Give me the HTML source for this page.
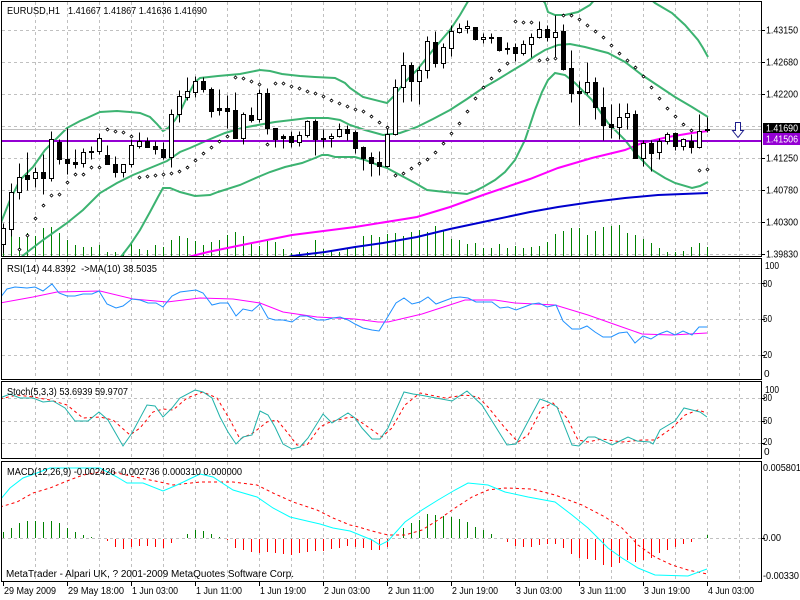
<!DOCTYPE html>
<html><head><meta charset="utf-8"><style>
html,body{margin:0;padding:0;background:#fff;width:800px;height:600px;overflow:hidden}
svg{display:block}
text{font-family:"Liberation Sans",sans-serif;font-size:10px;fill:#000}
.w{fill:#fff;stroke:#000;stroke-width:1}
.b{fill:#000;stroke:#000;stroke-width:1}
</style></head><body>
<svg width="800" height="600" viewBox="0 0 800 600" xmlns="http://www.w3.org/2000/svg" xmlns:xlink="http://www.w3.org/1999/xlink">
<defs>
<clipPath id="cm"><rect x="2" y="2" width="759" height="254"/></clipPath>
<clipPath id="cr"><rect x="2" y="259" width="759" height="120"/></clipPath>
<clipPath id="cs"><rect x="2" y="382" width="759" height="76"/></clipPath>
<clipPath id="cd"><rect x="2" y="462" width="759" height="119"/></clipPath>
<g id="vg"><path d="M0.5 2V256M0.5 259V379M0.5 382V458M0.5 462V581" stroke="#c0c0c0" stroke-dasharray="3,3" fill="none"/></g>
</defs>
<rect width="800" height="600" fill="#fff"/>

<!-- vertical grid -->
<use xlink:href="#vg" x="35"/><use xlink:href="#vg" x="67"/><use xlink:href="#vg" x="99"/><use xlink:href="#vg" x="131"/><use xlink:href="#vg" x="163"/><use xlink:href="#vg" x="195"/><use xlink:href="#vg" x="227"/><use xlink:href="#vg" x="259"/><use xlink:href="#vg" x="291"/><use xlink:href="#vg" x="323"/><use xlink:href="#vg" x="355"/><use xlink:href="#vg" x="387"/><use xlink:href="#vg" x="419"/><use xlink:href="#vg" x="451"/><use xlink:href="#vg" x="483"/><use xlink:href="#vg" x="515"/><use xlink:href="#vg" x="547"/><use xlink:href="#vg" x="579"/><use xlink:href="#vg" x="611"/><use xlink:href="#vg" x="643"/><use xlink:href="#vg" x="675"/><use xlink:href="#vg" x="707"/><use xlink:href="#vg" x="739"/>
<!-- horizontal grid -->
<path d="M2 30.5H761M2 62.5H761M2 94.5H761M2 126.5H761M2 158.5H761M2 190.5H761M2 222.5H761M2 254.5H761M2 283.5H761M2 319.5H761M2 355.5H761M2 398.5H761M2 421.5H761M2 443.5H761M2 538.5H761" stroke="#c0c0c0" stroke-dasharray="3,3" fill="none"/>

<!-- MAIN PANEL -->
<g clip-path="url(#cm)">
<!-- volumes -->
<g transform="translate(-0.5,0)">
<path fill="none" stroke="#008000" stroke-width="1" d="M4 240V256M12 236V256M20 237V256M28 233V256M36 236V256M44 228V256M52 227V256M60 233V256M68 240V256M76 245V256M84 247V256M92 247V256M100 245V256M108 252V256M116 252V256M124 252V256M132 244V256M140 249V256M148 250V256M156 245V256M164 247V256M172 240V256M180 236V256M188 238V256M196 241V256M204 245V256M212 242V256M220 240V256M228 235V256M236 232V256M244 236V256M252 243V256M260 246V256M268 241V256M276 242V256M284 249V256M292 253V256M300 252V256M308 252V256M316 240V256M324 249V256M332 250V256M340 252V256M348 249V256M356 247V256M364 236V256M372 235V256M380 237V256M388 234V256M396 233V256M404 236V256M412 232V256M420 230V256M428 232V256M436 226V256M444 230V256M452 239V256M460 240V256M468 244V256M476 243V256M484 248V256M492 248V256M500 244V256M508 248V256M516 246V256M524 248V256M532 247V256M540 246V256M548 242V256M556 234V256M564 231V256M572 228V256M580 228V256M588 235V256M596 231V256M604 227V256M612 226V256M620 225V256M628 233V256M636 235V256M644 239V256M652 243V256M660 248V256M668 252V256M676 252V256M684 251V256M692 247V256M700 243V256M708 247V256"/>
</g>
<!-- moving averages -->
<polyline fill="none" stroke="#ff00ff" stroke-width="2" points="185,258 192,256 208,252 242,245 292,235 355,227 417,217 450,207 483,195 530,179 558,168 592,158 625,150 642,143 668,137 692,133 708,131"/>
<polyline fill="none" stroke="#0000cd" stroke-width="2" points="285,258 292,256 325,252 355,247 383,243 417,237 450,229 483,222 530,212 558,207 592,202 625,198 658,195 708,193"/>
<!-- bollinger -->
<g fill="none" stroke="#3cb371" stroke-width="2">
<polyline points="0,225 10,200 20,180 33,167 45,150 53,142 67,128 80,121 87,118 100,112 117,111 130,112 140,113 150,117 157,124 163,131 168,128 175,120 180,112 188,95 195,82 200,78 218,76 240,74 260,70 270,71 282,74 300,76 315,77 335,78 345,83 350,88 363,97 387,103 393,97 405,82 417,70 433,50 450,30 460,15 467,3 472,-5"/>
<polyline points="540,-3 545,3 548,12 555,15 565,15 578,12 590,5 597,-3"/>
<polyline points="648,-3 655,3 672,13 685,25 698,40 703,48 708,57"/>
<polyline points="20,258 30,250 43,240 67,223 83,210 100,193 117,183 133,175 150,168 167,161 180,152 190,148 208,140 225,133 242,128 258,125 275,122 292,120 308,118 328,118 340,120 350,125 365,130 383,135 400,133 417,127 433,119 450,110 467,99 483,88 497,80 510,72 525,63 535,56 545,50 558,45 570,44 585,47 608,53 625,62 642,75 660,87 675,97 692,107 708,117"/>
<polyline points="120,258 130,245 140,230 150,212 158,197 163,188 170,188 180,192 195,196 210,195 218,192 240,185 258,177 270,172 285,167 302,163 315,158 322,155 328,155 335,157 355,157 365,160 378,165 387,168 400,175 415,183 427,190 445,192 467,194 475,191 483,187 495,180 505,172 515,160 525,140 535,110 542,92 548,80 555,73 565,75 575,83 592,100 608,123 625,140 635,153 645,163 652,170 665,178 675,183 692,188 700,186 708,182"/>
</g>
<!-- bid line & level line -->
<path d="M2 129.5H761" stroke="#c0c0c0" stroke-width="1"/>
<path d="M2 141H761" stroke="#9400d3" stroke-width="2"/>
<!-- candles -->
<g transform="translate(0.5,0.5)" shape-rendering="crispEdges">
<path stroke="#000" fill="none" d="M3 223V253M11 183V236M19 163V199M27 152V190M35 167V187M43 154V194M51 131V181M59 139V164M67 128V174M75 149V168M83 148V167M91 146V159M99 133V154M107 145V164M115 156V177M123 164V177M131 139V167M139 132V148M147 137V147M155 141V154M163 142V159M171 109V167M179 90V122M187 77V100M195 76V97M203 77V92M211 87V117M219 89V115M227 95V128M235 92V138M243 112V144M251 107V122M259 89V122M267 88V134M275 128V147M283 134V148M291 131V147M299 131V146M307 120V137M315 119V155M323 129V147M331 133V147M339 123V137M347 125V140M355 130V153M363 146V170M371 152V176M379 151V175M387 127V167M395 79V135M403 52V102M411 62V101M419 66V104M427 36V78M435 31V67M443 43V68M451 25V56M459 23V33M467 20V33M475 27V40M483 33V43M491 33V43M499 37V51M507 42V54M515 43V61M523 40V55M531 33V57M539 21V38M547 25V41M555 15V58M563 24V70M571 50V102M579 81V125M587 62V94M595 77V119M603 87V140M611 104V138M619 103V139M627 103V129M635 110V158M643 140V166M651 140V171M659 138V159M667 132V144M675 132V150M683 138V150M691 134V153M699 114V148M707 117V132"/>
<rect class="w" x="1" y="228" width="4" height="16"/>
<rect class="w" x="9" y="192" width="4" height="37"/>
<rect class="w" x="17" y="177" width="4" height="15"/>
<rect class="b" x="25" y="175" width="4" height="4"/>
<rect class="w" x="33" y="172" width="4" height="6"/>
<rect class="b" x="41" y="172" width="4" height="6"/>
<rect class="w" x="49" y="139" width="4" height="39"/>
<rect class="b" x="57" y="142" width="4" height="17"/>
<rect class="b" x="65" y="159" width="4" height="4"/>
<rect class="b" x="73" y="162" width="4" height="2"/>
<rect class="w" x="81" y="152" width="4" height="11"/>
<rect class="b" x="89" y="151" width="4" height="1"/>
<rect class="w" x="97" y="138" width="4" height="13"/>
<rect class="b" x="105" y="155" width="4" height="9"/>
<rect class="b" x="113" y="164" width="4" height="8"/>
<rect class="w" x="121" y="164" width="4" height="8"/>
<rect class="w" x="129" y="145" width="4" height="19"/>
<rect class="w" x="137" y="141" width="4" height="5"/>
<rect class="b" x="145" y="141" width="4" height="6"/>
<rect class="b" x="153" y="146" width="4" height="3"/>
<rect class="b" x="161" y="149" width="4" height="8"/>
<rect class="w" x="169" y="114" width="4" height="43"/>
<rect class="w" x="177" y="96" width="4" height="18"/>
<rect class="w" x="185" y="91" width="4" height="6"/>
<rect class="w" x="193" y="81" width="4" height="11"/>
<rect class="b" x="201" y="81" width="4" height="8"/>
<rect class="b" x="209" y="89" width="4" height="22"/>
<rect class="b" x="217" y="108" width="4" height="2"/>
<rect class="b" x="225" y="108" width="4" height="3"/>
<rect class="b" x="233" y="110" width="4" height="28"/>
<rect class="w" x="241" y="114" width="4" height="24"/>
<rect class="b" x="249" y="115" width="4" height="5"/>
<rect class="w" x="257" y="93" width="4" height="26"/>
<rect class="b" x="265" y="93" width="4" height="35"/>
<rect class="b" x="273" y="128" width="4" height="11"/>
<rect class="b" x="281" y="136" width="4" height="2"/>
<rect class="b" x="289" y="136" width="4" height="6"/>
<rect class="w" x="297" y="135" width="4" height="7"/>
<rect class="w" x="305" y="121" width="4" height="14"/>
<rect class="b" x="313" y="121" width="4" height="18"/>
<rect class="b" x="321" y="138" width="4" height="1"/>
<rect class="w" x="329" y="136" width="4" height="2"/>
<rect class="w" x="337" y="129" width="4" height="7"/>
<rect class="b" x="345" y="129" width="4" height="4"/>
<rect class="b" x="353" y="132" width="4" height="16"/>
<rect class="b" x="361" y="147" width="4" height="11"/>
<rect class="b" x="369" y="157" width="4" height="6"/>
<rect class="b" x="377" y="162" width="4" height="4"/>
<rect class="w" x="385" y="134" width="4" height="32"/>
<rect class="w" x="393" y="87" width="4" height="47"/>
<rect class="w" x="401" y="65" width="4" height="22"/>
<rect class="b" x="409" y="65" width="4" height="16"/>
<rect class="w" x="417" y="70" width="4" height="11"/>
<rect class="w" x="425" y="41" width="4" height="29"/>
<rect class="b" x="433" y="42" width="4" height="21"/>
<rect class="w" x="441" y="47" width="4" height="16"/>
<rect class="w" x="449" y="31" width="4" height="17"/>
<rect class="w" x="457" y="28" width="4" height="4"/>
<rect class="w" x="465" y="26" width="4" height="2"/>
<rect class="b" x="473" y="27" width="4" height="12"/>
<rect class="w" x="481" y="37" width="4" height="2"/>
<rect class="b" x="489" y="37" width="4" height="1"/>
<rect class="b" x="497" y="37" width="4" height="13"/>
<rect class="b" x="505" y="48" width="4" height="1"/>
<rect class="b" x="513" y="47" width="4" height="6"/>
<rect class="w" x="521" y="44" width="4" height="9"/>
<rect class="w" x="529" y="37" width="4" height="7"/>
<rect class="w" x="537" y="29" width="4" height="8"/>
<rect class="b" x="545" y="29" width="4" height="8"/>
<rect class="w" x="553" y="32" width="4" height="5"/>
<rect class="b" x="561" y="31" width="4" height="38"/>
<rect class="b" x="569" y="68" width="4" height="25"/>
<rect class="b" x="577" y="91" width="4" height="2"/>
<rect class="w" x="585" y="82" width="4" height="10"/>
<rect class="b" x="593" y="82" width="4" height="25"/>
<rect class="b" x="601" y="107" width="4" height="18"/>
<rect class="b" x="609" y="124" width="4" height="3"/>
<rect class="w" x="617" y="117" width="4" height="10"/>
<rect class="w" x="625" y="113" width="4" height="4"/>
<rect class="b" x="633" y="114" width="4" height="44"/>
<rect class="w" x="641" y="143" width="4" height="15"/>
<rect class="b" x="649" y="143" width="4" height="10"/>
<rect class="w" x="657" y="141" width="4" height="11"/>
<rect class="w" x="665" y="134" width="4" height="7"/>
<rect class="b" x="673" y="133" width="4" height="13"/>
<rect class="w" x="681" y="139" width="4" height="7"/>
<rect class="b" x="689" y="141" width="4" height="6"/>
<rect class="w" x="697" y="131" width="4" height="16"/>
<rect class="b" x="705" y="129" width="4" height="1"/>
</g>
<!-- parabolic SAR -->
<g transform="translate(0.5,1)">
<path fill="#fff" stroke="#000" stroke-width="0.8" d="M19 247l1.5 1.5-1.5 1.5-1.5-1.5zM27 233l1.5 1.5-1.5 1.5-1.5-1.5zM35 216l1.5 1.5-1.5 1.5-1.5-1.5zM43 203l1.5 1.5-1.5 1.5-1.5-1.5zM51 193l1.5 1.5-1.5 1.5-1.5-1.5zM59 192l1.5 1.5-1.5 1.5-1.5-1.5zM67 180l1.5 1.5-1.5 1.5-1.5-1.5zM75 172l1.5 1.5-1.5 1.5-1.5-1.5zM83 172l1.5 1.5-1.5 1.5-1.5-1.5zM91 165l1.5 1.5-1.5 1.5-1.5-1.5zM99 165l1.5 1.5-1.5 1.5-1.5-1.5zM107 127l1.5 1.5-1.5 1.5-1.5-1.5zM115 129l1.5 1.5-1.5 1.5-1.5-1.5zM123 130l1.5 1.5-1.5 1.5-1.5-1.5zM131 134l1.5 1.5-1.5 1.5-1.5-1.5zM139 175l1.5 1.5-1.5 1.5-1.5-1.5zM147 174l1.5 1.5-1.5 1.5-1.5-1.5zM155 173l1.5 1.5-1.5 1.5-1.5-1.5zM163 172l1.5 1.5-1.5 1.5-1.5-1.5zM171 171l1.5 1.5-1.5 1.5-1.5-1.5zM179 169l1.5 1.5-1.5 1.5-1.5-1.5zM187 165l1.5 1.5-1.5 1.5-1.5-1.5zM195 158l1.5 1.5-1.5 1.5-1.5-1.5zM203 151l1.5 1.5-1.5 1.5-1.5-1.5zM211 145l1.5 1.5-1.5 1.5-1.5-1.5zM219 139l1.5 1.5-1.5 1.5-1.5-1.5zM227 134l1.5 1.5-1.5 1.5-1.5-1.5zM235 75l1.5 1.5-1.5 1.5-1.5-1.5zM243 76l1.5 1.5-1.5 1.5-1.5-1.5zM251 79l1.5 1.5-1.5 1.5-1.5-1.5zM259 82l1.5 1.5-1.5 1.5-1.5-1.5zM267 142l1.5 1.5-1.5 1.5-1.5-1.5zM275 81l1.5 1.5-1.5 1.5-1.5-1.5zM283 81l1.5 1.5-1.5 1.5-1.5-1.5zM291 84l1.5 1.5-1.5 1.5-1.5-1.5zM299 86l1.5 1.5-1.5 1.5-1.5-1.5zM307 89l1.5 1.5-1.5 1.5-1.5-1.5zM315 91l1.5 1.5-1.5 1.5-1.5-1.5zM323 94l1.5 1.5-1.5 1.5-1.5-1.5zM331 98l1.5 1.5-1.5 1.5-1.5-1.5zM339 101l1.5 1.5-1.5 1.5-1.5-1.5zM347 104l1.5 1.5-1.5 1.5-1.5-1.5zM355 107l1.5 1.5-1.5 1.5-1.5-1.5zM363 109l1.5 1.5-1.5 1.5-1.5-1.5zM371 114l1.5 1.5-1.5 1.5-1.5-1.5zM379 120l1.5 1.5-1.5 1.5-1.5-1.5zM387 125l1.5 1.5-1.5 1.5-1.5-1.5zM395 173l1.5 1.5-1.5 1.5-1.5-1.5zM403 171l1.5 1.5-1.5 1.5-1.5-1.5zM411 166l1.5 1.5-1.5 1.5-1.5-1.5zM419 161l1.5 1.5-1.5 1.5-1.5-1.5zM427 157l1.5 1.5-1.5 1.5-1.5-1.5zM435 150l1.5 1.5-1.5 1.5-1.5-1.5zM443 141l1.5 1.5-1.5 1.5-1.5-1.5zM451 131l1.5 1.5-1.5 1.5-1.5-1.5zM459 121l1.5 1.5-1.5 1.5-1.5-1.5zM467 109l1.5 1.5-1.5 1.5-1.5-1.5zM475 96l1.5 1.5-1.5 1.5-1.5-1.5zM483 85l1.5 1.5-1.5 1.5-1.5-1.5zM491 76l1.5 1.5-1.5 1.5-1.5-1.5zM499 68l1.5 1.5-1.5 1.5-1.5-1.5zM507 61l1.5 1.5-1.5 1.5-1.5-1.5zM515 19l1.5 1.5-1.5 1.5-1.5-1.5zM523 20l1.5 1.5-1.5 1.5-1.5-1.5zM531 20l1.5 1.5-1.5 1.5-1.5-1.5zM539 58l1.5 1.5-1.5 1.5-1.5-1.5zM547 57l1.5 1.5-1.5 1.5-1.5-1.5zM555 56l1.5 1.5-1.5 1.5-1.5-1.5zM563 13l1.5 1.5-1.5 1.5-1.5-1.5zM571 13l1.5 1.5-1.5 1.5-1.5-1.5zM579 17l1.5 1.5-1.5 1.5-1.5-1.5zM587 23l1.5 1.5-1.5 1.5-1.5-1.5zM595 29l1.5 1.5-1.5 1.5-1.5-1.5zM603 35l1.5 1.5-1.5 1.5-1.5-1.5zM611 43l1.5 1.5-1.5 1.5-1.5-1.5zM619 51l1.5 1.5-1.5 1.5-1.5-1.5zM627 58l1.5 1.5-1.5 1.5-1.5-1.5zM635 65l1.5 1.5-1.5 1.5-1.5-1.5zM643 74l1.5 1.5-1.5 1.5-1.5-1.5zM651 85l1.5 1.5-1.5 1.5-1.5-1.5zM659 96l1.5 1.5-1.5 1.5-1.5-1.5zM667 106l1.5 1.5-1.5 1.5-1.5-1.5zM675 114l1.5 1.5-1.5 1.5-1.5-1.5zM683 122l1.5 1.5-1.5 1.5-1.5-1.5zM691 128l1.5 1.5-1.5 1.5-1.5-1.5zM699 168l1.5 1.5-1.5 1.5-1.5-1.5zM707 167l1.5 1.5-1.5 1.5-1.5-1.5z"/>
</g>
<!-- arrow -->
<path d="M735.5 122.5H740.5V130.5H743.5L738 137.5L732.5 130.5H735.5Z" fill="#fff" stroke="#1e1e8c" stroke-width="1"/>
</g>

<!-- RSI -->
<g clip-path="url(#cr)" fill="none" stroke-width="1">
<polyline stroke="#ff00ff" points="0,303 33,297 57,292 100,291 133,299 167,302 200,298 233,299 260,303 283,312 317,317 355,319 378,322 388,322 422,314 465,300 495,300 515,303 555,305 588,315 622,327 642,334 672,335 707,333"/>
<polyline stroke="#1e90ff" points="0,298 7,289 15,287 27,288 35,287 43,291 52,284 59,293 67,296 75,296 83,294 92,294 99,291 107,304 116,308 123,306 132,299 140,300 148,303 156,303 163,307 172,296 180,292 188,291 196,290 203,293 212,305 220,303 228,303 236,316 243,309 252,311 260,304 268,318 275,320 283,320 292,322 300,316 307,316 317,320 325,320 333,318 340,317 348,320 355,324 363,328 372,330 379,331 387,318 396,303 404,298 412,304 420,302 428,297 436,304 444,301 452,298 460,297 468,298 476,302 483,302 492,302 500,308 508,307 516,310 524,307 532,304 539,303 547,307 556,305 563,321 572,329 580,329 587,326 595,332 603,337 611,337 619,333 627,332 635,343 643,336 651,339 659,334 667,331 675,335 683,331 692,335 699,327 707,327"/>
</g>

<!-- STOCH -->
<g clip-path="url(#cs)" fill="none" stroke-width="1">
<polyline stroke="#ff0000" stroke-dasharray="3,3" points="0,399 17,395 33,397 50,400 67,405 83,418 100,417 113,420 130,435 140,428 153,412 163,409 173,410 187,398 203,392 217,398 230,420 240,439 253,433 267,422 277,420 287,432 297,445 307,445 320,427 330,422 350,417 355,418 368,427 382,437 392,428 405,405 420,393 445,398 465,395 478,397 488,407 505,428 518,442 528,435 542,408 553,403 567,418 578,440 588,442 602,439 622,442 642,440 655,440 672,428 685,415 698,410 707,413"/>
<polyline stroke="#20b2aa" points="0,398 10,394 20,398 33,398 43,402 53,401 65,408 75,421 88,421 99,412 108,420 123,446 132,433 147,405 155,406 163,417 172,408 180,398 195,390 203,392 212,398 220,417 228,432 236,444 243,437 252,435 260,411 268,415 275,427 283,444 292,449 300,447 308,438 323,414 332,423 348,413 355,418 362,428 372,439 380,439 388,428 404,392 413,394 420,395 452,401 467,391 482,405 507,445 516,444 540,399 548,402 557,407 572,445 579,446 588,437 595,437 612,445 620,441 628,437 637,441 650,442 653,444 660,430 675,421 684,408 700,412 707,417"/>
</g>

<!-- MACD -->
<g clip-path="url(#cd)">
<g transform="translate(-0.5,0)">
<path fill="none" stroke="#008000" stroke-width="1" d="M4 532V538M12 528V538M20 523V538M28 521V538M36 521V538M44 522V538M52 521V538M60 523V538M68 528V538M76 532V538M84 535V538M92 537V538M188 534V538M196 530V538M204 531V538M212 534V538M220 537V538M404 528V538M412 523V538M420 520V538M428 514V538M436 515V538M444 516V538M452 517V538M460 519V538M468 522V538M476 527V538M484 530V538M492 534V538M708 535V538"/>
<path fill="none" stroke="#ff0000" stroke-width="1" d="M108 539V541M116 539V547M124 539V549M132 539V547M140 539V546M148 539V546M156 539V547M164 539V548M172 539V543M228 539V540M236 539V548M244 539V550M252 539V552M260 539V553M268 539V552M276 539V553M284 539V554M292 539V555M300 539V553M308 539V552M316 539V551M324 539V551M332 539V549M340 539V548M348 539V546M356 539V547M364 539V548M372 539V550M380 539V550M388 539V547M508 539V542M516 539V546M524 539V547M532 539V547M540 539V545M548 539V544M556 539V544M564 539V548M572 539V554M580 539V558M588 539V559M596 539V560M604 539V565M612 539V567M620 539V563M628 539V560M636 539V562M644 539V560M652 539V558M660 539V553M668 539V550M676 539V547M684 539V544M692 539V542"/>
</g>
<polyline fill="none" stroke="#ff0000" stroke-dasharray="3,3" points="0,507 17,502 33,493 50,488 67,481 83,475 100,472 117,473 140,478 160,482 173,485 200,482 233,482 257,485 273,493 293,502 317,510 333,518 350,525 355,526 372,531 388,535 405,535 422,530 438,520 455,508 472,497 488,490 505,488 532,489 555,495 582,505 605,517 622,528 638,545 655,557 672,565 688,570 707,574"/>
<polyline fill="none" stroke="#00ffff" points="0,500 10,488 23,478 37,473 50,468 67,468 100,468 117,477 127,483 143,483 163,491 177,485 200,474 213,477 233,490 257,497 273,508 290,517 307,521 320,524 333,528 350,531 355,533 372,540 380,545 388,541 405,522 422,510 438,500 455,490 468,483 488,485 505,492 528,497 555,502 572,515 588,528 608,548 622,558 638,568 655,575 688,576 707,569"/>
</g>

<!-- panel frames -->
<g fill="none" stroke="#000" stroke-width="1">
<rect x="1.5" y="1.5" width="760" height="255"/>
<rect x="1.5" y="258.5" width="760" height="121"/>
<rect x="1.5" y="381.5" width="760" height="77"/>
<rect x="1.5" y="461.5" width="760" height="120"/>
<path d="M762 30.5h3M762 62.5h3M762 94.5h3M762 158.5h3M762 190.5h3M762 222.5h3M762 254.5h3M762 283.5h3M762 319.5h3M762 355.5h3M762 398.5h3M762 421.5h3M762 443.5h3M762 538.5h3"/>
<path d="M3.5 582v4M67.5 582v4M131.5 582v4M195.5 582v4M259.5 582v4M323.5 582v4M387.5 582v4M451.5 582v4M515.5 582v4M579.5 582v4M643.5 582v4M707.5 582v4"/>
</g>

<!-- price labels -->
<rect x="763" y="123" width="37" height="10" fill="#000"/>
<text x="766" y="131.5" textLength="32" lengthAdjust="spacingAndGlyphs" style="fill:#fff">1.41690</text>
<rect x="763" y="133" width="37" height="12" fill="#9400d3"/>
<text x="766" y="142.5" textLength="32" lengthAdjust="spacingAndGlyphs" style="fill:#fff">1.41506</text>

<!-- header texts -->
<text x="7" y="14" textLength="53" lengthAdjust="spacingAndGlyphs">EURUSD,H1</text>
<text x="68" y="14" textLength="139" lengthAdjust="spacingAndGlyphs">1.41667 1.41867 1.41636 1.41690</text>
<text x="7" y="272" textLength="150" lengthAdjust="spacingAndGlyphs" xml:space="preserve">RSI(14) 44.8392  -&gt;MA(10) 38.5035</text>
<text x="7" y="395" textLength="121" lengthAdjust="spacingAndGlyphs">Stoch(5,3,3) 53.6939 59.9707</text>
<text x="7" y="475" textLength="235" lengthAdjust="spacingAndGlyphs">MACD(12,26,9) -0.002426 -0.002736 0.000310 0.000000</text>
<text x="6" y="577" textLength="288" lengthAdjust="spacingAndGlyphs">MetaTrader - Alpari UK, ? 2001-2009 MetaQuotes Software Corp.</text>

<!-- right axis labels -->
<g>
<text x="766" y="33.5" textLength="32" lengthAdjust="spacingAndGlyphs">1.43150</text>
<text x="766" y="65.5" textLength="32" lengthAdjust="spacingAndGlyphs">1.42680</text>
<text x="766" y="97.5" textLength="32" lengthAdjust="spacingAndGlyphs">1.42200</text>
<text x="766" y="161.5" textLength="32" lengthAdjust="spacingAndGlyphs">1.41250</text>
<text x="766" y="193.5" textLength="32" lengthAdjust="spacingAndGlyphs">1.40780</text>
<text x="766" y="225.5" textLength="32" lengthAdjust="spacingAndGlyphs">1.40300</text>
<text x="766" y="257.5" textLength="32" lengthAdjust="spacingAndGlyphs">1.39830</text>
<text x="765" y="269" textLength="14" lengthAdjust="spacingAndGlyphs">100</text>
<text x="763" y="287" textLength="9" lengthAdjust="spacingAndGlyphs">80</text>
<text x="763" y="322" textLength="9" lengthAdjust="spacingAndGlyphs">50</text>
<text x="763" y="358" textLength="9" lengthAdjust="spacingAndGlyphs">20</text>
<text x="764" y="377">0</text>
<text x="765" y="393" textLength="14" lengthAdjust="spacingAndGlyphs">100</text>
<text x="763" y="401" textLength="9" lengthAdjust="spacingAndGlyphs">80</text>
<text x="763" y="424" textLength="9" lengthAdjust="spacingAndGlyphs">50</text>
<text x="763" y="445" textLength="9" lengthAdjust="spacingAndGlyphs">20</text>
<text x="764" y="455">0</text>
<text x="763" y="471" textLength="38" lengthAdjust="spacingAndGlyphs">0.005801</text>
<text x="763" y="541" textLength="18" lengthAdjust="spacingAndGlyphs">0.00</text>
<text x="763" y="579" textLength="36" lengthAdjust="spacingAndGlyphs">-0.00330</text>
</g>

<!-- time axis -->
<g>
<text x="4" y="594" textLength="52" lengthAdjust="spacingAndGlyphs">29 May 2009</text>
<text x="68" y="594" textLength="56" lengthAdjust="spacingAndGlyphs">29 May 18:00</text>
<text x="132" y="594" textLength="46" lengthAdjust="spacingAndGlyphs">1 Jun 03:00</text>
<text x="196" y="594" textLength="46" lengthAdjust="spacingAndGlyphs">1 Jun 11:00</text>
<text x="260" y="594" textLength="46" lengthAdjust="spacingAndGlyphs">1 Jun 19:00</text>
<text x="324" y="594" textLength="46" lengthAdjust="spacingAndGlyphs">2 Jun 03:00</text>
<text x="388" y="594" textLength="46" lengthAdjust="spacingAndGlyphs">2 Jun 11:00</text>
<text x="452" y="594" textLength="46" lengthAdjust="spacingAndGlyphs">2 Jun 19:00</text>
<text x="516" y="594" textLength="46" lengthAdjust="spacingAndGlyphs">3 Jun 03:00</text>
<text x="580" y="594" textLength="46" lengthAdjust="spacingAndGlyphs">3 Jun 11:00</text>
<text x="644" y="594" textLength="46" lengthAdjust="spacingAndGlyphs">3 Jun 19:00</text>
<text x="708" y="594" textLength="46" lengthAdjust="spacingAndGlyphs">4 Jun 03:00</text>
</g>
</svg>
</body></html>
